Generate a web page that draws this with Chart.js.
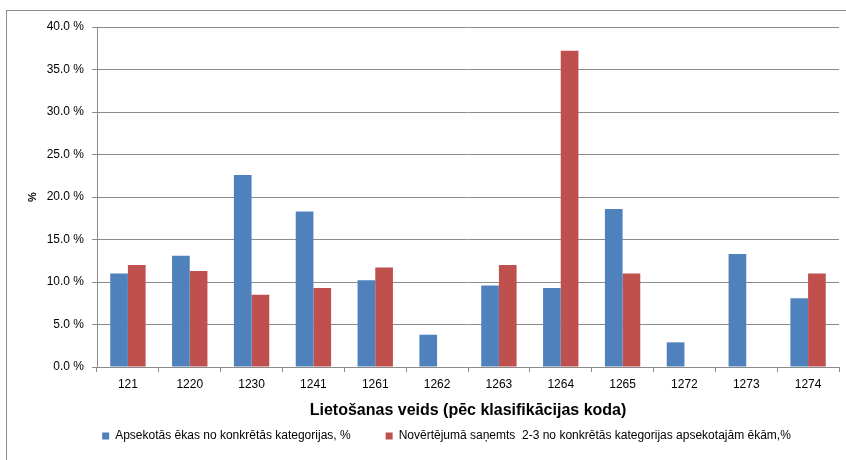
<!DOCTYPE html>
<html>
<head>
<meta charset="utf-8">
<script src="https://cdn.jsdelivr.net/npm/chart.js@4"></script>
<style>
  html, body { margin: 0; padding: 0; background: #fff; overflow: hidden; width: 846px; height: 460px; }
  #frame { position: absolute; left: 6px; top: 10px; width: 900px; height: 500px;
           border-left: 1px solid #8c8c8c; border-top: 1px solid #8c8c8c; }
  #wrap { position: absolute; left: 0; top: 0; width: 893px; height: 452px; }
</style>
</head>
<body>
<div id="frame"></div>
<div id="wrap"><canvas id="c"></canvas></div>
<script>
const categories = ['121','1220','1230','1241','1261','1262','1263','1264','1265','1272','1273','1274'];
const seriesNames = [
  'Apsekotās ēkas no konkrētās kategorijas, %',
  'Novērtējumā saņemts  2-3 no konkrētās kategorijas apsekotajām ēkām,%'
];
const surveyed = [11.0, 13.1, 22.6, 18.3, 10.2, 3.8, 9.6, 9.3, 18.6, 2.9, 13.3, 8.1];
const rated23 = [12.0, 11.3, 8.5, 9.3, 11.7, 0, 12.0, 37.2, 11.0, 0, 0, 11.0];
const yTicks = [0, 5, 10, 15, 20, 25, 30, 35, 40];
const xTitle = 'Lietošanas veids (pēc klasifikācijas koda)';
const yTitle = '%';

const FONT = 'Liberation Sans';
const gridColor = '#8c8c8c';

new Chart(document.getElementById('c'), {
  type: 'bar',
  data: {
    labels: categories,
    datasets: [
      { label: seriesNames[0], data: surveyed, backgroundColor: '#4F81BD', borderWidth: 0,
        categoryPercentage: 0.572, barPercentage: 1.0, xAxisID: 'x', yAxisID: 'y' },
      { label: seriesNames[1], data: rated23, backgroundColor: '#C0504D', borderWidth: 0,
        categoryPercentage: 0.572, barPercentage: 1.0, xAxisID: 'x', yAxisID: 'y' }
    ]
  },
  options: {
    responsive: true,
    maintainAspectRatio: false,
    animation: false,
    devicePixelRatio: 1,
    layout: { padding: { top: 27, left: 0, right: 0, bottom: 0 } },
    plugins: {
      tooltip: { enabled: false },
      legend: {
        position: 'bottom',
        align: 'center',
        labels: {
          boxWidth: 7, boxHeight: 7, padding: 35,
          color: '#000', font: { family: FONT, size: 12 }
        }
      }
    },
    scales: {
      x: {
        type: 'category',
        position: 'bottom',
        grid: { display: true, offset: true, drawOnChartArea: false, drawTicks: true,
                tickLength: 5, color: gridColor, lineWidth: 1 },
        border: { display: true, color: gridColor, width: 1 },
        ticks: { color: '#000', font: { family: FONT, size: 12 }, padding: 5, maxRotation: 0 },
        title: { display: true, text: xTitle, color: '#000',
                 font: { family: FONT, size: 16, weight: 'bold' },
                 padding: { top: 0, bottom: -25 } },
        afterFit: (s) => { s.height = 28; }
      },
      y: {
        position: 'left',
        min: 0, max: 40,
        afterBuildTicks: (s) => { s.ticks = yTicks.map(v => ({ value: v })); },
        grid: { color: gridColor, lineWidth: 1, drawTicks: true, tickLength: 5 },
        border: { display: true, color: gridColor, width: 1 },
        ticks: { color: '#000', font: { family: FONT, size: 12 }, padding: 8,
                 callback: (v) => Number(v).toFixed(1) + ' %' },
        title: { display: true, text: yTitle, color: '#000',
                 font: { family: FONT, size: 11, weight: 'bold' },
                 padding: { top: 26, bottom: 0 } },
        afterFit: (s) => { s.width = 97; }
      },
      yr: {
        position: 'right',
        display: true,
        min: 0, max: 40,
        grid: { drawOnChartArea: false, drawTicks: false },
        border: { display: false },
        ticks: { display: false },
        afterFit: (s) => { s.width = 54; }
      }
    }
  }
});
</script>
</body>
</html>
